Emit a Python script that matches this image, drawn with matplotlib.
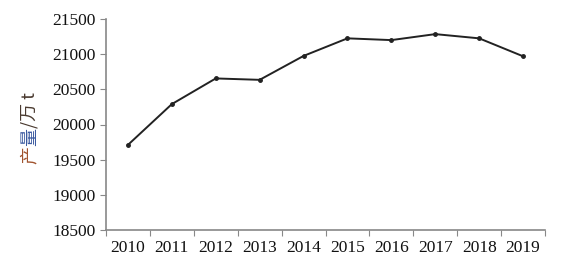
import matplotlib
matplotlib.use('Agg')
import matplotlib.pyplot as plt
from matplotlib import transforms

years = ['2010', '2011', '2012', '2013', '2014', '2015', '2016', '2017', '2018', '2019']
output = [19710, 20290, 20655, 20635, 20975, 21225, 21200, 21285, 21225, 20970]

plt.rcParams['font.family'] = ['Liberation Serif', 'Noto Sans CJK SC']

fig = plt.figure(figsize=(5.79, 2.67), dpi=100)
ax = fig.add_axes([106 / 579, 37 / 267, 439 / 579, 211 / 267])

x = list(range(len(years)))
ax.plot(x, output, color='#222222', lw=1.4, marker='o', ms=2.5)

ax.set_xlim(-0.5, len(years) - 0.5)
ax.set_ylim(18500, 21500)
ax.set_yticks(range(18500, 21501, 500))

# tick marks between categories, labels in the middle
ax.set_xticks([i - 0.5 for i in range(len(years) + 1)])
ax.set_xticklabels([])
ax.set_xticks(x, minor=True)
ax.set_xticklabels(years, minor=True)
ax.tick_params(axis='x', which='minor', length=0, pad=7)
ax.tick_params(axis='both', which='major', length=4, color='#888888', direction='out')
ax.tick_params(axis='both', which='both', labelsize=12.5, labelcolor='#111111')

for s in ['top', 'right']:
    ax.spines[s].set_visible(False)
for s in ['left', 'bottom']:
    ax.spines[s].set_color('#888888')
    ax.spines[s].set_linewidth(1.2)

# y label with coloured pieces
parts = [('产', '#a0522d'), ('量', '#3b5aa0'), ('/万 t', '#4a3a30')]
t = fig.transFigure
fig.canvas.draw()
for s, c in parts:
    txt = fig.text(30 / 579, 103 / 267, s, color=c, rotation=90, fontsize=13,
                   family=['Noto Sans CJK SC', 'DejaVu Sans'],
                   ha='center', va='bottom', transform=t)
    txt.draw(fig.canvas.get_renderer())
    ex = txt.get_window_extent()
    t = transforms.offset_copy(txt.get_transform(), fig=fig, y=ex.height, units='dots')

fig.savefig('out.png', dpi=100)
